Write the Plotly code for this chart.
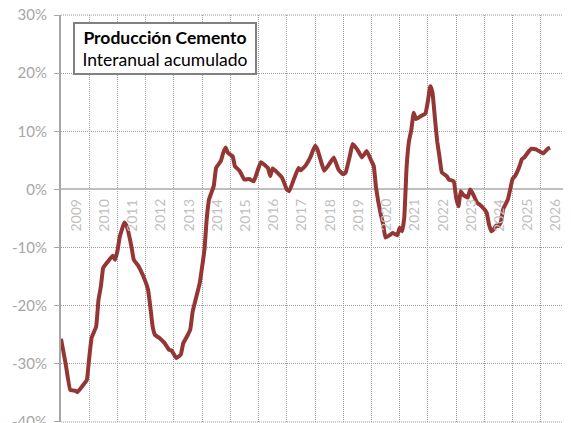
import plotly.graph_objects as go

# Monthly readings (year-month) and cement production YoY cumulative (%)
fechas = [
    "2009-01", "2009-03", "2009-05", "2009-07", "2009-08", "2009-10", "2009-12",
    "2010-01", "2010-02", "2010-04", "2010-05", "2010-06", "2010-07", "2010-09",
    "2010-11", "2010-12", "2011-01", "2011-02", "2011-04", "2011-05", "2011-07",
    "2011-08", "2011-10", "2011-12", "2012-02", "2012-03", "2012-04", "2012-05",
    "2012-07", "2012-09", "2012-11", "2012-12", "2013-02", "2013-04", "2013-05",
    "2013-07", "2013-08", "2013-09", "2013-12", "2014-02", "2014-03", "2014-04",
    "2014-06", "2014-07", "2014-09", "2014-10", "2014-11", "2014-12", "2015-02",
    "2015-03", "2015-05", "2015-07", "2015-09", "2015-11", "2016-01", "2016-02",
    "2016-05", "2016-06", "2016-07", "2016-09", "2016-11", "2017-01", "2017-02",
    "2017-04", "2017-06", "2017-07", "2017-09", "2017-11", "2018-01", "2018-02",
    "2018-04", "2018-05", "2018-07", "2018-09", "2018-11", "2019-01", "2019-02",
    "2019-04", "2019-05", "2019-07", "2019-09", "2019-11", "2020-01", "2020-02",
    "2020-03", "2020-05", "2020-06", "2020-07", "2020-09", "2020-10", "2020-12",
    "2021-01", "2021-02", "2021-03", "2021-04", "2021-05", "2021-06", "2021-07",
    "2021-08", "2021-10", "2021-12", "2022-01", "2022-02", "2022-03", "2022-04",
    "2022-05", "2022-06", "2022-07", "2022-09", "2022-10", "2022-12", "2023-01",
    "2023-02", "2023-03", "2023-04", "2023-06", "2023-07", "2023-08", "2023-10",
    "2023-11", "2024-01", "2024-02", "2024-03", "2024-04", "2024-05", "2024-06",
    "2024-07", "2024-08", "2024-09", "2024-11", "2024-12", "2025-01", "2025-02",
    "2025-04", "2025-05", "2025-06", "2025-08", "2025-09", "2025-11", "2026-01",
    "2026-02", "2026-04", "2026-05",
]
valores = [
    -25.7, -29.9, -34.5, -34.6, -34.9, -33.9, -32.8,
    -29.0, -25.5, -23.6, -19.0, -16.7, -13.5, -12.4,
    -11.4, -12.1, -10.6, -8.1, -5.7, -6.3, -9.8,
    -12.1, -13.2, -14.9, -17.2, -20.1, -23.6, -25.0,
    -25.6, -26.4, -27.6, -27.7, -29.0, -28.4, -26.5,
    -25.0, -24.1, -21.0, -16.1, -10.3, -5.2, -1.7,
    0.6, 3.7, 4.9, 6.3, 7.2, 6.3, 5.7,
    4.0, 3.2, 1.7, 1.8, 1.4, 3.7, 4.7,
    3.7, 2.3, 3.6, 2.9, 2.0, 0.0, -0.3,
    1.7, 3.7, 3.3, 4.1, 5.5, 7.5, 6.9,
    4.3, 3.2, 4.3, 5.5, 3.4, 2.6, 2.9,
    6.0, 7.8, 6.9, 5.5, 6.6, 4.9, 4.0,
    0.3, -4.3, -6.0, -8.3, -7.8, -7.5, -7.9,
    -6.6, -7.2, -4.9, 4.0, 8.3, 10.3, 13.2,
    12.1, 12.6, 13.1, 15.2, 17.8, 16.7, 12.4,
    8.3, 5.5, 2.9, 2.3, 1.7, 1.4, -1.4,
    -2.9, -0.3, -0.9, -1.4, 0.0, -0.6, -2.3,
    -2.6, -3.4, -4.0, -6.0, -7.2, -6.9, -6.2,
    -6.3, -5.7, -3.4, -1.7, 0.0, 1.8, 2.3,
    4.0, 5.2, 5.5, 6.6, 7.0, 6.9, 6.4,
    6.2, 7.0, 7.2,
]
years = list(range(2009, 2027))
y_ticks = [30, 20, 10, 0, -10, -20, -30, -40]
y_labels = ["30%", "20%", "10%", "0%", "-10%", "-20%", "-30%", "-40%"]

LINE_COLOR = "#943634"
GRID_COLOR = "#9A9A9A"
TEXT_GRAY = "#A6A6A6"
FONT = "Lato"

fig = go.Figure()
fig.add_trace(go.Scatter(
    x=[f + "-01" for f in fechas], y=valores, mode="lines",
    line=dict(color=LINE_COLOR, width=4, shape="spline", smoothing=0.3),
    hoverinfo="skip", showlegend=False,
))

# Year labels rotated, just below the zero line, centred in each year
for yr in years:
    fig.add_annotation(
        x=f"{yr}-07-02", y=0, xref="x", yref="y", text=str(yr),
        textangle=-90, showarrow=False, yanchor="middle", xanchor="center",
        yshift=-26, font=dict(family=FONT, size=14, color="#BFBFBF"),
    )

fig.add_annotation(
    xref="paper", yref="paper", x=0.2047, y=0.9177,
    xanchor="center", yanchor="middle", showarrow=False,
    text="<b>Producción Cemento</b><br>Interanual acumulado",
    font=dict(family=FONT, size=17.5, color="#000000"),
    bgcolor="white", bordercolor="#808080", borderwidth=2, borderpad=1,
    width=178, height=47, align="center",
)

# dotted frame edges (top, bottom, right) like the outer gridlines
for x0, y0, x1, y1 in [(0, 1, 1, 1), (0, 0, 1, 0), (1, 0, 1, 1)]:
    fig.add_shape(type="line", xref="paper", yref="paper",
                  x0=x0, y0=y0, x1=x1, y1=y1, layer="below",
                  line=dict(color=GRID_COLOR, width=1, dash="1px,1px"))

# page body has an 8px margin: size the figure so the plot area lands in place
fig.update_layout(
    width=563, height=415,
    margin=dict(l=53, r=2, t=7, b=1),
    paper_bgcolor="white", plot_bgcolor="white",
    font=dict(family=FONT),
)
fig.update_xaxes(
    type="date", range=["2009-01-01", "2027-01-01"], automargin=False,
    tick0="2009-01-01", dtick="M12", showticklabels=False,
    showgrid=True, gridcolor=GRID_COLOR, griddash="1px,1px", gridwidth=1,
    zeroline=False, showline=False, ticks="",
)
fig.update_yaxes(
    range=[-40.01, 30.01], tickvals=y_ticks, ticktext=y_labels, automargin=False,
    showgrid=True, gridcolor=GRID_COLOR, griddash="1px,1px", gridwidth=1,
    zeroline=True, zerolinecolor="#BFBFBF", zerolinewidth=2,
    showline=True, linecolor="#A6A6A6", linewidth=2,
    ticks="outside", ticklen=5, tickcolor="#A6A6A6", tickwidth=1,
    ticklabelstandoff=4, ticklabeloverflow="allow",
    tickfont=dict(family=FONT, size=15, color=TEXT_GRAY),
)

fig.write_html("out.html")
